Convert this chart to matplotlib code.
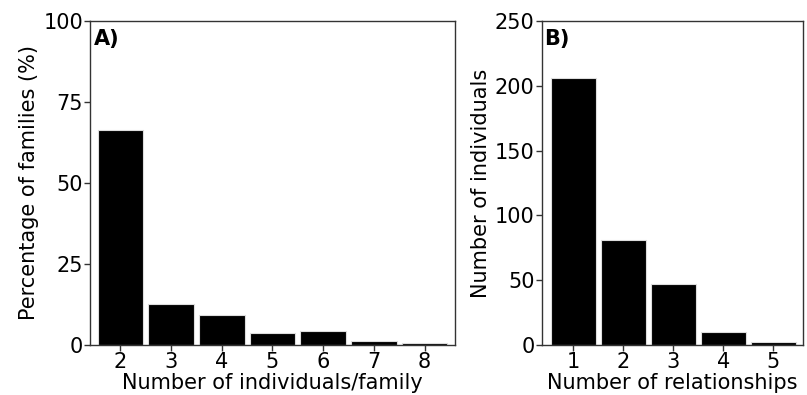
import matplotlib
matplotlib.use("Agg")
import matplotlib.pyplot as plt

# panel A: family size distribution
family_size = [2, 3, 4, 5, 6, 7, 8]
pct_families = [66.4, 12.6, 9.4, 3.7, 4.4, 1.3, 0.6]

# panel B: relationships per individual
n_relationships = [1, 2, 3, 4, 5]
n_individuals = [206, 81, 47, 10, 2]

plt.rcParams['font.family'] = ['DejaVu Sans']
fs = 15

fig = plt.figure(figsize=(8.07, 3.95), dpi=100)
axA = fig.add_axes([0.1115, 0.1266, 0.4523, 0.8203])
axB = fig.add_axes([0.6712, 0.1266, 0.3238, 0.8203])

for ax in (axA, axB):
    for s in ax.spines.values():
        s.set_color('#333333')
        s.set_linewidth(1.0)
    ax.tick_params(length=4, width=1, color='#333333', labelsize=fs, pad=1)

axA.bar(family_size, pct_families, width=0.9, color='black', edgecolor='#dddddd', linewidth=0.8)
axA.set_xlim(1.4, 8.6)
axA.set_ylim(0, 100)
axA.set_yticks([0, 25, 50, 75, 100])
axA.set_xticks(family_size)
axA.set_xlabel('Number of individuals/family', fontsize=fs, labelpad=1)
axA.set_ylabel('Percentage of families (%)', fontsize=fs, labelpad=3)
axA.text(0.01, 0.975, 'A)', transform=axA.transAxes, fontsize=fs, fontweight='bold', va='top', ha='left')

axB.bar(n_relationships, n_individuals, width=0.9, color='black', edgecolor='#dddddd', linewidth=0.8)
axB.set_xlim(0.37, 5.59)
axB.set_ylim(0, 250)
axB.set_yticks([0, 50, 100, 150, 200, 250])
axB.set_xticks(n_relationships)
axB.set_xlabel('Number of relationships', fontsize=fs, labelpad=1)
axB.set_ylabel('Number of individuals', fontsize=fs, labelpad=3)
axB.text(0.01, 0.975, 'B)', transform=axB.transAxes, fontsize=fs, fontweight='bold', va='top', ha='left')

fig.savefig('out.png', dpi=100)
